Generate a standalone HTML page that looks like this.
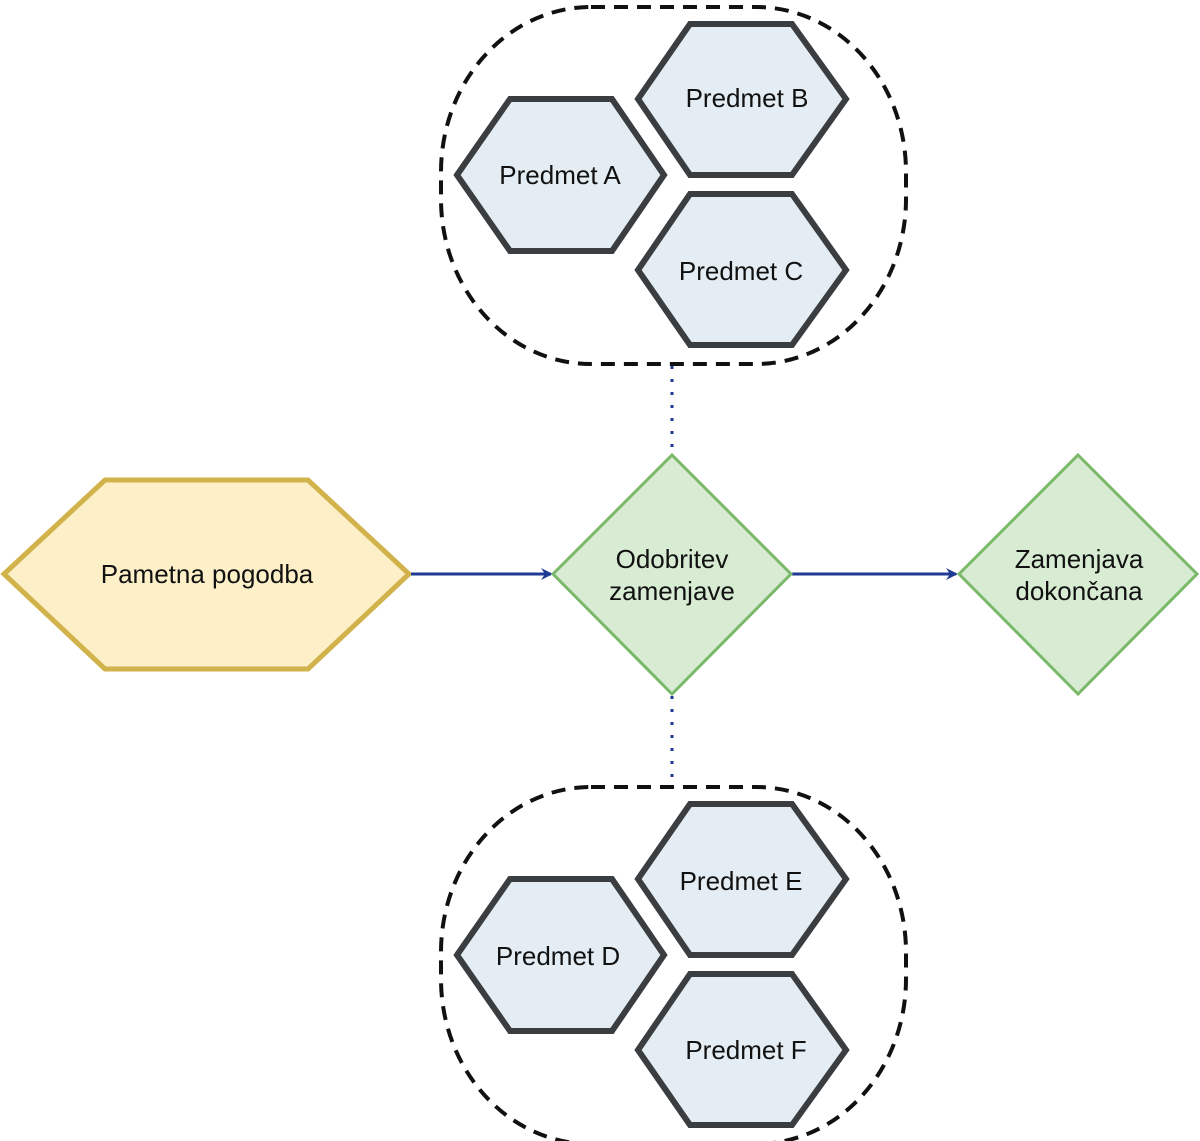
<!DOCTYPE html>
<html><head><meta charset="utf-8"><style>
html,body{margin:0;padding:0;background:#fff;}
svg{display:block;}
text{font-family:"Liberation Sans",sans-serif;font-size:26px;fill:#111;text-anchor:middle;}
</style></head><body>
<svg width="1200" height="1141" viewBox="0 0 1200 1141" xmlns="http://www.w3.org/2000/svg">
<defs>
<marker id="ah" markerWidth="12" markerHeight="12" refX="10" refY="6" orient="auto" markerUnits="userSpaceOnUse">
<path d="M0,0 L12,6 L0,12 L4,6 Z" fill="#1f3a93"/>
</marker>
<g id="cluster">
<rect x="441" y="7" width="465" height="357" rx="150" ry="165" fill="none" stroke="#111" stroke-width="4" stroke-dasharray="14,9"/>
<polygon points="457,175 510,99 612,99 664,175 612,251 510,251" fill="#e3edf3" stroke="#3b3e40" stroke-width="6"/>
<polygon points="638,99 690,24 792,24 846,99 792,175 690,175" fill="#e3edf3" stroke="#3b3e40" stroke-width="6"/>
<polygon points="638,270 690,194 792,194 846,270 792,345 690,345" fill="#e3edf3" stroke="#3b3e40" stroke-width="6"/>
</g>
</defs>
<use href="#cluster"/>
<text x="560" y="184">Predmet A</text>
<text x="747" y="107">Predmet B</text>
<text x="741" y="280">Predmet C</text>
<use href="#cluster" transform="translate(0,780)"/>
<text x="558" y="965">Predmet D</text>
<text x="741" y="890">Predmet E</text>
<text x="746" y="1059">Predmet F</text>

<line x1="672" y1="366" x2="672" y2="455" stroke="#1f3a93" stroke-width="3" stroke-dasharray="3,10"/>
<line x1="672" y1="696" x2="672" y2="785" stroke="#1f3a93" stroke-width="3" stroke-dasharray="3,10"/>

<polygon points="4,574 105,480 308,480 409,574 308,669 105,669" fill="#fdf0c9" stroke="#d2b24a" stroke-width="5"/>
<text x="207" y="583">Pametna pogodba</text>

<line x1="411" y1="574" x2="551" y2="574" stroke="#1f3a93" stroke-width="3" marker-end="url(#ah)"/>
<line x1="792" y1="574" x2="956" y2="574" stroke="#1f3a93" stroke-width="3" marker-end="url(#ah)"/>

<polygon points="672,455 791,574 672,694 553,574" fill="#d8ecd3" stroke="#7ab86a" stroke-width="3"/>
<text x="672" y="568">Odobritev</text>
<text x="672" y="600">zamenjave</text>

<polygon points="1078,455 1197,574 1078,694 959,574" fill="#d8ecd3" stroke="#7ab86a" stroke-width="3"/>
<text x="1079" y="568">Zamenjava</text>
<text x="1079" y="600">dokončana</text>
</svg>
</body></html>
